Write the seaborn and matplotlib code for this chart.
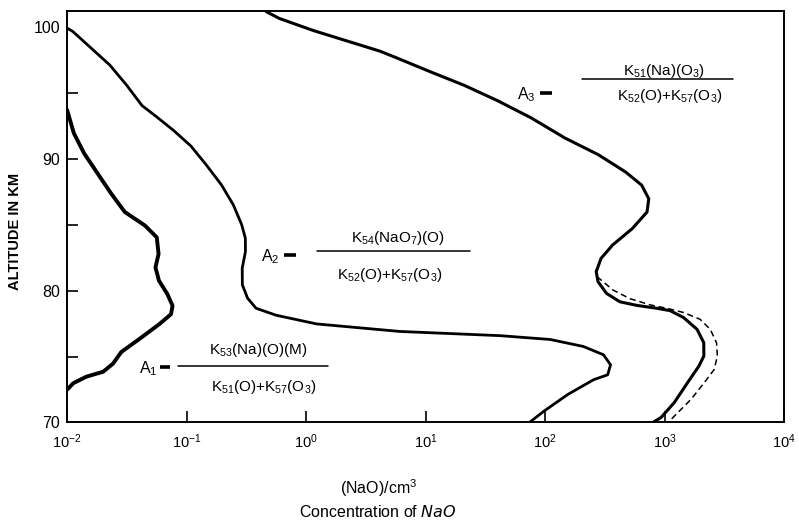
import matplotlib
matplotlib.use("Agg")
import matplotlib.pyplot as plt
import seaborn as sns
import pandas as pd
from matplotlib.ticker import FixedLocator, NullLocator, FixedFormatter

# ---------------- data ----------------
# Curve A1 : concentration of NaO (per cm3) vs altitude (km)
a1_conc = [0.0100, 0.01140, 0.01390, 0.01803, 0.02339, 0.03041, 0.04487, 0.05636,
           0.05834, 0.05495, 0.05875, 0.06918, 0.07638, 0.07413, 0.05929, 0.04046,
           0.02844, 0.02427, 0.02004, 0.01455, 0.01127, 0.0100]
a1_alt = [93.74, 91.96, 90.43, 88.90, 87.38, 85.98, 84.95, 84.05,
          82.79, 81.78, 80.77, 79.74, 78.86, 78.22, 77.47, 76.35,
          75.35, 74.47, 73.85, 73.48, 72.98, 72.48]

# Curve A2
a2_conc = [0.0100, 0.01117, 0.01542, 0.02280, 0.03162, 0.04236, 0.05675, 0.07852,
           0.1086, 0.1455, 0.1954, 0.2460, 0.2897, 0.3105, 0.3112, 0.2924,
           0.2931, 0.3243, 0.3819, 0.5623, 1.227, 6.095, 42.07, 110.4,
           208.9, 308.3, 353.2, 334.2, 255.3, 155.2, 97.9, 73.96]
a2_alt = [99.94, 99.68, 98.53, 97.13, 95.59, 94.06, 93.17, 92.14,
          90.99, 89.58, 88.05, 86.53, 85.00, 83.99, 82.98, 81.71,
          80.45, 79.43, 78.67, 78.14, 77.48, 76.91, 76.59, 76.30,
          75.77, 75.14, 74.38, 73.62, 73.25, 72.13, 70.86, 70.0]

# Curve A3 (solid)
a3_conc = [0.4634, 0.5970, 1.153, 2.183, 4.140, 5.754, 10.91, 21.09, 39.99, 75.86,
           146.9, 278.6, 471.0, 642.7, 738.0, 712.9, 535.8, 367.3, 294.4, 267.9,
           277.3, 326.6, 422.7, 584.8, 859.0, 1112, 1439, 1871, 2128, 2133,
           1941, 1560, 1208, 937.6, 799.8]
a3_alt = [101.19, 100.67, 99.75, 98.97, 98.19, 97.67, 96.63, 95.59, 94.43, 93.14,
          91.59, 90.33, 89.02, 88.02, 86.98, 85.97, 84.71, 83.47, 82.46, 81.45,
          80.69, 79.80, 79.16, 78.89, 78.67, 78.49, 77.97, 77.07, 76.06, 75.05,
          74.29, 73.03, 71.52, 70.39, 70.0]

# Curve A3 (dashed variant)
a3d_conc = [272.3, 370.7, 512.9, 755.1, 1042, 1439, 1986, 2415, 2723, 2767,
            2600, 2148, 1667, 1294, 1069]
a3d_alt = [81.07, 80.05, 79.40, 78.93, 78.67, 78.35, 77.83, 77.06, 76.05, 75.04,
           74.02, 73.02, 71.76, 70.76, 70.0]

x_ticks = [1e-2, 1e-1, 1e0, 1e1, 1e2, 1e3, 1e4]
x_tick_labels = [r"$10^{-2}$", r"$10^{-1}$", r"$10^{0}$", r"$10^{1}$",
                 r"$10^{2}$", r"$10^{3}$", r"$10^{4}$"]
y_ticks = [70, 80, 90, 100]
y_tick_labels = ["70", "80", "90", "100"]
y_minor_ticks = [75, 85, 95]

# ---------------- style ----------------
sns.set_theme(style="white")
plt.rcParams['font.family'] = ['Liberation Sans', 'DejaVu Sans']
plt.rcParams['mathtext.default'] = 'regular'

fig = plt.figure(figsize=(7.99, 5.23), dpi=100)
ax = fig.add_axes([0.0839, 0.1922, 0.8974, 0.7859])

df1 = pd.DataFrame({"conc": a1_conc, "alt": a1_alt})
df2 = pd.DataFrame({"conc": a2_conc, "alt": a2_alt})
df3 = pd.DataFrame({"conc": a3_conc, "alt": a3_alt})
df3d = pd.DataFrame({"conc": a3d_conc, "alt": a3d_alt})

common = dict(sort=False, estimator=None, color="black", ax=ax)
sns.lineplot(data=df1, x="conc", y="alt", lw=2.8, solid_joinstyle="round", **common)
sns.lineplot(data=df2, x="conc", y="alt", lw=2.0, solid_joinstyle="round", **common)
sns.lineplot(data=df3, x="conc", y="alt", lw=2.2, solid_joinstyle="round", **common)
sns.lineplot(data=df3d, x="conc", y="alt", lw=1.1, linestyle=(0, (4, 2.5)), **common)

ax.set_xscale("log")
ax.set_xlim(1e-2, 1e4)
ax.set_ylim(70, 101.2)

ax.xaxis.set_major_locator(FixedLocator(x_ticks))
ax.xaxis.set_major_formatter(FixedFormatter(x_tick_labels))
ax.xaxis.set_minor_locator(NullLocator())
ax.yaxis.set_major_locator(FixedLocator(y_ticks))
ax.yaxis.set_major_formatter(FixedFormatter(y_tick_labels))
ax.yaxis.set_minor_locator(FixedLocator(y_minor_ticks))

ax.tick_params(axis="x", which="major", direction="in", length=8, width=1.2,
               labelsize=10.5, pad=7, colors="black", bottom=True)
ax.tick_params(axis="y", which="both", direction="in", length=8, width=1.2,
               labelsize=11.5, pad=5, colors="black", left=True)
# the reference shows no tick mark at 100 km, only its label
ax.yaxis.get_major_ticks()[-1].tick1line.set_visible(False)

for s in ax.spines.values():
    s.set_visible(True)
    s.set_color("black")
    s.set_linewidth(1.4)

ax.set_xlabel("")
ax.set_ylabel("ALTITUDE IN KM", fontsize=10.5, fontweight="bold", color="black")
ax.yaxis.set_label_coords(-0.063, 0.466)

ax.text(0.434, -0.159, "(NaO)/cm$^3$", transform=ax.transAxes, ha="center",
        va="center", fontsize=11.5, color="black")
ax.text(0.434, -0.218, r"Concentration of $\it{NaO}$", transform=ax.transAxes,
        ha="center", va="center", fontsize=11.5, color="black")

# ---------------- formula annotations ----------------
def formula(lab_xy, dash_x, dash_y, num, num_xy, bar_x, bar_y, den, den_xy):
    t = ax.transAxes
    ax.text(lab_xy[0], lab_xy[1], lab_xy[2], transform=t, ha="center", va="center",
            fontsize=11.5, color="black")
    ax.plot(dash_x, [dash_y, dash_y], transform=t, color="black", lw=2.6,
            solid_capstyle="butt")
    ax.text(num_xy[0], num_xy[1], num, transform=t, ha="center", va="center",
            fontsize=11, color="black")
    ax.plot(bar_x, [bar_y, bar_y], transform=t, color="black", lw=1.1)
    ax.text(den_xy[0], den_xy[1], den, transform=t, ha="center", va="center",
            fontsize=11, color="black")

formula((0.641, 0.797, "A$_3$"), [0.660, 0.676], 0.801,
        "K$_{51}$(Na)(O$_3$)", (0.832, 0.855), [0.718, 0.929], 0.836,
        "K$_{52}$(O)+K$_{57}$(O$_3$)", (0.841, 0.794))
formula((0.283, 0.403, "A$_2$"), [0.303, 0.320], 0.407,
        "K$_{54}$(NaO$_7$)(O)", (0.462, 0.449), [0.348, 0.562], 0.417,
        "K$_{52}$(O)+K$_{57}$(O$_3$)", (0.450, 0.359))
formula((0.113, 0.132, "A$_1$"), [0.130, 0.144], 0.136,
        "K$_{53}$(Na)(O)(M)", (0.267, 0.177), [0.155, 0.364], 0.137,
        "K$_{51}$(O)+K$_{57}$(O$_3$)", (0.274, 0.087))

fig.savefig("out.png", dpi=100, facecolor="white")
